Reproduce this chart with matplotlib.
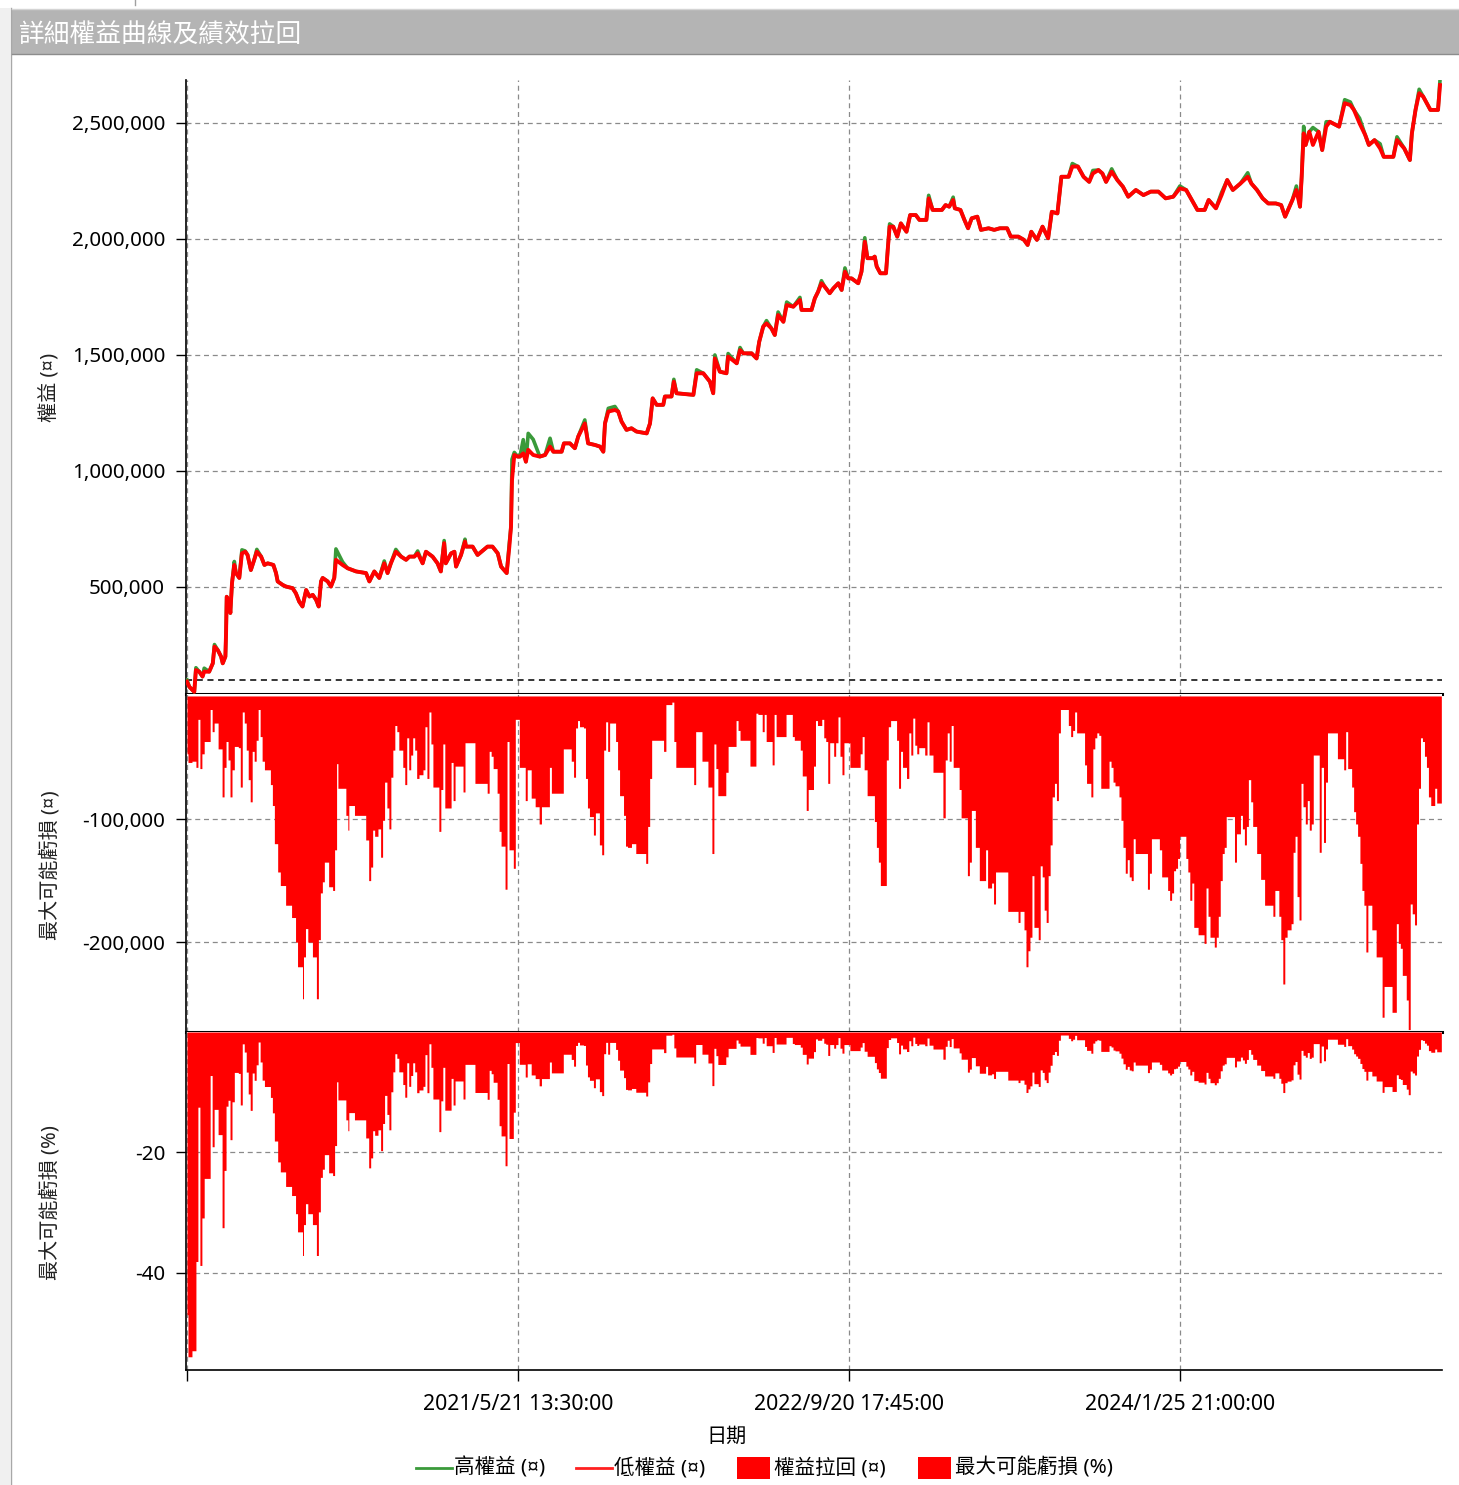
import numpy as np
import matplotlib
matplotlib.use("Agg")
import matplotlib.pyplot as plt
from matplotlib.patches import Rectangle
from matplotlib.lines import Line2D
from matplotlib.ticker import FuncFormatter

plt.rcParams['font.family'] = ['Noto Sans', 'Noto Sans CJK TC', 'DejaVu Sans']

# ---------------- data (x = bar index along the date axis) ----------------
title = "詳細權益曲線及績效拉回"
tick_pos = [0, 1000, 2000, 3000]
tick_labels = ["", "2021/5/21 13:30:00", "2022/9/20 17:45:00", "2024/1/25 21:00:00"]
base_equity = 100000

eq_x = [0, 7, 22, 27, 37, 47, 52, 67, 78, 83, 93, 103, 108, 116, 118, 120, 128, 131, 136, 143,
        148, 158, 166, 176, 183, 193, 203, 211, 224, 234, 244, 261, 269, 274, 289, 299, 319, 329, 339, 349,
        360, 370, 380, 390, 398, 405, 410, 425, 435, 445, 450, 470, 485, 511, 541, 551, 566, 581, 596, 606,
        616, 631, 647, 662, 672, 687, 697, 712, 722, 742, 757, 767, 777, 782, 798, 808, 813, 828, 840, 843,
        863, 878, 908, 923, 939, 949, 966, 974, 979, 982, 989, 999, 1006, 1016, 1024, 1031, 1046, 1066, 1082, 1097,
        1107, 1132, 1139, 1157, 1172, 1182, 1202, 1212, 1233, 1248, 1258, 1263, 1273, 1293, 1303, 1313, 1328, 1343, 1358, 1389,
        1399, 1407, 1419, 1439, 1444, 1464, 1471, 1479, 1530, 1540, 1560, 1580, 1590, 1595, 1610, 1630, 1635, 1661, 1671, 1681,
        1706, 1721, 1729, 1741, 1751, 1766, 1776, 1786, 1802, 1812, 1832, 1852, 1857, 1872, 1887, 1897, 1907, 1917, 1927, 1942,
        1953, 1968, 1978, 1988, 1998, 2008, 2028, 2038, 2048, 2056, 2072, 2078, 2084, 2095, 2112, 2118, 2123, 2134, 2146, 2157,
        2174, 2185, 2202, 2213, 2234, 2241, 2253, 2281, 2292, 2303, 2315, 2320, 2337, 2349, 2360, 2371, 2388, 2399, 2422, 2439,
        2456, 2478, 2489, 2512, 2529, 2540, 2551, 2568, 2585, 2602, 2613, 2630, 2642, 2664, 2675, 2692, 2709, 2726, 2737, 2754,
        2766, 2777, 2794, 2811, 2828, 2844, 2867, 2890, 2912, 2935, 2957, 2980, 3000, 3019, 3036, 3053, 3075, 3087, 3109, 3126,
        3143, 3160, 3183, 3205, 3216, 3233, 3250, 3267, 3290, 3306, 3318, 3340, 3352, 3363, 3368, 3374, 3380, 3391, 3402, 3419,
        3430, 3442, 3453, 3481, 3498, 3515, 3526, 3543, 3560, 3571, 3588, 3605, 3616, 3645, 3656, 3678, 3695, 3701, 3712, 3723,
        3735, 3757, 3774, 3780, 3786]

# low equity (thousands)
eq_low = [92, 70, 48, 142, 135, 114, 135, 135, 171, 243, 228, 200, 171, 200, 300, 458, 431, 388, 517, 595,
          560, 539, 645, 652, 638, 573, 617, 652, 631, 595, 602, 595, 560, 524, 509, 502, 495, 473, 437, 416,
          487, 459, 466, 445, 416, 524, 539, 524, 502, 539, 617, 595, 581, 567, 560, 524, 567, 539, 602, 560,
          602, 652, 631, 617, 631, 631, 645, 602, 652, 631, 602, 567, 689, 602, 645, 652, 588, 638, 696, 674,
          674, 638, 674, 674, 645, 588, 560, 674, 760, 961, 1069, 1062, 1062, 1076, 1040, 1091, 1069, 1062, 1069, 1105,
          1083, 1083, 1119, 1119, 1098, 1148, 1205, 1119, 1112, 1105, 1083, 1205, 1256, 1263, 1256, 1213, 1177, 1184, 1170, 1162,
          1205, 1313, 1285, 1285, 1321, 1321, 1385, 1335, 1328, 1421, 1421, 1385, 1335, 1485, 1428, 1421, 1493, 1464, 1521, 1507,
          1507, 1485, 1557, 1622, 1636, 1614, 1586, 1672, 1643, 1715, 1708, 1737, 1694, 1694, 1694, 1744, 1773, 1809, 1794, 1766,
          1787, 1809, 1780, 1859, 1830, 1830, 1809, 1859, 1988, 1917, 1917, 1924, 1881, 1852, 1852, 1967, 2053, 2053, 2010, 2067,
          2031, 2103, 2103, 2082, 2082, 2175, 2125, 2125, 2146, 2139, 2168, 2132, 2125, 2082, 2046, 2089, 2096, 2039, 2046, 2039,
          2046, 2046, 2010, 2010, 1996, 1974, 2031, 1996, 2053, 2003, 2117, 2110, 2268, 2268, 2312, 2312, 2268, 2246, 2282, 2297,
          2282, 2246, 2290, 2254, 2225, 2182, 2211, 2189, 2204, 2204, 2175, 2182, 2218, 2211, 2168, 2125, 2125, 2168, 2132, 2189,
          2254, 2211, 2239, 2268, 2239, 2211, 2175, 2153, 2153, 2146, 2096, 2168, 2211, 2139, 2268, 2455, 2405, 2462, 2405, 2462,
          2383, 2484, 2505, 2484, 2585, 2577, 2556, 2498, 2448, 2405, 2426, 2390, 2354, 2354, 2426, 2390, 2340, 2455, 2556, 2628,
          2614, 2556, 2556, 2556, 2663]

# high equity (thousands)
eq_high = [100, 70, 48, 152, 135, 114, 150, 135, 171, 252, 228, 200, 171, 200, 300, 458, 431, 388, 517, 610,
           560, 539, 660, 655, 638, 573, 617, 662, 631, 595, 602, 595, 560, 524, 509, 502, 495, 473, 437, 416,
           487, 459, 466, 445, 416, 524, 539, 524, 502, 539, 664, 608, 581, 567, 560, 524, 567, 539, 612, 560,
           602, 662, 631, 617, 631, 631, 655, 602, 652, 631, 602, 567, 700, 602, 645, 652, 588, 638, 706, 674,
           674, 638, 674, 674, 645, 588, 560, 690, 760, 1050, 1080, 1062, 1062, 1135, 1040, 1162, 1136, 1062, 1069, 1141,
           1083, 1083, 1119, 1119, 1098, 1148, 1220, 1119, 1112, 1105, 1083, 1205, 1270, 1278, 1256, 1213, 1177, 1184, 1170, 1162,
           1205, 1313, 1285, 1285, 1321, 1321, 1395, 1335, 1328, 1436, 1421, 1385, 1335, 1500, 1428, 1421, 1506, 1464, 1532, 1507,
           1507, 1485, 1557, 1622, 1648, 1614, 1586, 1685, 1643, 1728, 1708, 1748, 1694, 1694, 1694, 1744, 1773, 1820, 1794, 1766,
           1787, 1809, 1780, 1875, 1830, 1830, 1809, 1859, 2005, 1917, 1917, 1924, 1881, 1852, 1852, 1967, 2065, 2053, 2010, 2067,
           2031, 2103, 2103, 2082, 2082, 2188, 2125, 2125, 2146, 2139, 2180, 2132, 2125, 2082, 2046, 2089, 2096, 2039, 2046, 2039,
           2046, 2046, 2010, 2010, 1996, 1974, 2031, 1996, 2053, 2003, 2117, 2110, 2268, 2268, 2325, 2312, 2268, 2246, 2295, 2297,
           2282, 2246, 2302, 2254, 2225, 2182, 2211, 2189, 2204, 2204, 2175, 2182, 2228, 2211, 2168, 2125, 2125, 2168, 2132, 2200,
           2254, 2211, 2239, 2285, 2239, 2211, 2175, 2153, 2153, 2146, 2096, 2168, 2228, 2139, 2268, 2485, 2405, 2462, 2480, 2462,
           2383, 2505, 2505, 2484, 2600, 2590, 2556, 2520, 2448, 2405, 2426, 2410, 2354, 2354, 2440, 2390, 2340, 2455, 2556, 2645,
           2614, 2556, 2556, 2556, 2685]

# drawdown in currency (thousands)
dd_x = [0, 3, 15, 27, 33, 39, 45, 52, 70, 76, 82, 94, 106, 112, 118, 124, 130, 136, 143, 155,
        161, 167, 173, 179, 185, 191, 197, 203, 209, 215, 221, 227, 234, 252, 258, 264, 274, 282, 298, 316,
        328, 334, 349, 352, 358, 365, 379, 391, 397, 403, 409, 415, 428, 440, 446, 452, 456, 480, 486, 489,
        506, 540, 549, 555, 561, 567, 577, 585, 591, 597, 604, 610, 616, 622, 628, 634, 640, 652, 658, 664,
        670, 676, 682, 688, 694, 701, 713, 719, 725, 731, 737, 743, 761, 767, 773, 779, 798, 804, 810, 834,
        840, 870, 907, 913, 919, 925, 937, 943, 949, 961, 967, 973, 986, 992, 1004, 1022, 1028, 1040, 1052, 1064,
        1071, 1095, 1101, 1137, 1161, 1168, 1174, 1180, 1186, 1198, 1204, 1210, 1216, 1228, 1234, 1246, 1253, 1259, 1265, 1271,
        1277, 1295, 1301, 1307, 1319, 1325, 1331, 1343, 1356, 1386, 1392, 1398, 1404, 1440, 1447, 1465, 1471, 1477, 1531, 1537,
        1556, 1574, 1586, 1592, 1598, 1604, 1628, 1635, 1659, 1665, 1671, 1701, 1719, 1725, 1738, 1744, 1750, 1768, 1774, 1780,
        1810, 1829, 1835, 1853, 1859, 1871, 1877, 1893, 1899, 1905, 1918, 1924, 1930, 1936, 1942, 1954, 1960, 1967, 1973, 1979,
        1985, 2003, 2034, 2040, 2046, 2055, 2077, 2083, 2089, 2095, 2113, 2119, 2126, 2144, 2150, 2156, 2162, 2174, 2181, 2187,
        2193, 2199, 2205, 2211, 2229, 2236, 2242, 2254, 2284, 2291, 2297, 2303, 2309, 2315, 2333, 2339, 2358, 2364, 2370, 2382,
        2394, 2413, 2419, 2431, 2437, 2443, 2480, 2511, 2517, 2529, 2535, 2541, 2547, 2553, 2559, 2572, 2578, 2584, 2590, 2596,
        2602, 2608, 2614, 2621, 2627, 2633, 2639, 2663, 2670, 2676, 2682, 2688, 2712, 2718, 2731, 2737, 2743, 2749, 2755, 2761,
        2786, 2792, 2798, 2804, 2816, 2822, 2828, 2835, 2841, 2847, 2853, 2859, 2865, 2902, 2908, 2914, 2938, 2945, 2963, 2969,
        2975, 2981, 2987, 2993, 2999, 3018, 3024, 3030, 3036, 3042, 3055, 3073, 3079, 3085, 3091, 3104, 3110, 3116, 3122, 3128,
        3134, 3140, 3165, 3171, 3183, 3189, 3195, 3201, 3207, 3214, 3220, 3232, 3244, 3256, 3281, 3287, 3299, 3305, 3311, 3317,
        3324, 3336, 3342, 3348, 3354, 3360, 3366, 3372, 3379, 3385, 3391, 3397, 3403, 3421, 3427, 3434, 3440, 3446, 3476, 3495,
        3501, 3507, 3519, 3525, 3531, 3537, 3544, 3550, 3556, 3562, 3568, 3580, 3593, 3611, 3617, 3641, 3654, 3660, 3666, 3672,
        3684, 3690, 3696, 3702, 3709, 3715, 3721, 3727, 3733, 3739, 3745, 3751, 3758, 3770, 3776, 3790]

dd_val = [-47, -54, -53, -58, -19, -59, -47, -37, -11, -29, -22, -43, -82, -58, -37, -52, -82, -60, -41, -42,
          -74, -13, -22, -44, -68, -86, -45, -53, -36, -11, -33, -53, -60, -72, -89, -120, -143, -154, -170, -180,
          -200, -220, -246, -212, -189, -200, -212, -246, -198, -160, -151, -135, -155, -158, -125, -55, -75, -97, -109, -89,
          -97, -117, -150, -139, -109, -114, -108, -131, -101, -70, -91, -108, -66, -44, -24, -29, -44, -58, -72, -34,
          -60, -48, -34, -44, -67, -64, -60, -25, -67, -13, -39, -74, -110, -76, -39, -91, -54, -85, -57, -78,
          -38, -71, -79, -45, -49, -59, -79, -110, -122, -157, -37, -125, -140, -19, -58, -85, -60, -83, -90, -104,
          -90, -58, -79, -43, -53, -66, -26, -20, -25, -26, -67, -91, -98, -113, -95, -121, -129, -44, -21, -45,
          -22, -37, -60, -81, -97, -122, -123, -120, -128, -136, -106, -67, -36, -45, -7, -5, -37, -58, -72, -29,
          -53, -74, -128, -39, -59, -81, -62, -41, -20, -28, -36, -57, -14, -15, -29, -15, -37, -56, -15, -33,
          -15, -33, -36, -44, -65, -93, -76, -57, -20, -24, -19, -34, -37, -71, -38, -49, -38, -17, -49, -64,
          -38, -58, -47, -33, -60, -81, -102, -123, -135, -154, -52, -25, -20, -36, -75, -45, -58, -67, -30, -48,
          -18, -40, -47, -42, -48, -21, -48, -62, -99, -52, -30, -53, -24, -58, -76, -99, -146, -135, -93, -123,
          -150, -125, -156, -152, -169, -143, -175, -184, -175, -190, -220, -207, -196, -146, -188, -198, -138, -147, -174, -184,
          -146, -121, -82, -71, -85, -30, -11, -24, -33, -28, -13, -30, -56, -71, -82, -43, -34, -30, -32, -75,
          -53, -58, -70, -73, -82, -101, -123, -144, -133, -147, -150, -116, -128, -157, -144, -116, -125, -147, -158, -166,
          -160, -142, -140, -132, -114, -132, -143, -166, -152, -188, -194, -201, -156, -179, -196, -204, -196, -179, -150, -128,
          -123, -98, -135, -112, -97, -108, -121, -106, -68, -86, -106, -128, -149, -170, -179, -158, -179, -198, -234, -196,
          -190, -185, -127, -114, -163, -182, -71, -90, -104, -85, -109, -104, -48, -127, -58, -119, -70, -30, -51, -60,
          -29, -59, -74, -94, -104, -114, -136, -158, -170, -208, -170, -190, -212, -261, -236, -257, -185, -201, -205, -227,
          -247, -271, -169, -177, -186, -104, -75, -34, -37, -49, -58, -82, -89, -75, -87, -87]

# ---------------- derived series ----------------
ex = np.array(eq_x, dtype=float)
lo = np.array(eq_low, dtype=float) * 1000
hi = np.array(eq_high, dtype=float) * 1000
dx = np.array(dd_x, dtype=float)
dv = np.array(dd_val, dtype=float) * 1000
run_peak = np.maximum.accumulate(hi)
peak_at_dd = run_peak[np.clip(np.searchsorted(ex, dx, side='right') - 1, 0, len(ex) - 1)]
dd_pct = dv / peak_at_dd * 100

# ---------------- figure ----------------
W, H = 1459, 1485
fig = plt.figure(figsize=(W / 100, H / 100), dpi=100)
fig.patch.set_facecolor('white')

def fx(px):
    return px / W

def fy(py):
    return 1 - py / H

# window chrome
fig.add_artist(Rectangle((0, 0), fx(10), fy(8), transform=fig.transFigure, fc='#f0f0f0', ec='none'))
fig.add_artist(Line2D([fx(10.5), fx(10.5)], [0, fy(8)], transform=fig.transFigure, color='#a8a8a8', lw=1))
fig.add_artist(Line2D([fx(135), fx(135)], [fy(0), fy(5)], transform=fig.transFigure, color='#a0a0a0', lw=1))
fig.add_artist(Rectangle((fx(12), fy(54)), 1 - fx(12), fy(10) - fy(54), transform=fig.transFigure,
                         fc='#b4b4b4', ec='none'))
fig.add_artist(Line2D([fx(12), 1], [fy(9), fy(9)], transform=fig.transFigure, color='#d4d4d4', lw=1))
fig.add_artist(Line2D([fx(12), 1], [fy(54), fy(54)], transform=fig.transFigure, color='#8c8c8c', lw=1))
fig.text(fx(19), fy(33), title, color='white', fontsize=18.5, va='center_baseline', ha='left',
         family=['Noto Sans CJK TC', 'DejaVu Sans'])

L, R = 186, 1442
ax1 = fig.add_axes([fx(L), fy(694), fx(R) - fx(L), fy(80) - fy(694)])
ax2 = fig.add_axes([fx(L), fy(1032), fx(R) - fx(L), fy(694) - fy(1032)], sharex=ax1)
ax3 = fig.add_axes([fx(L), fy(1370), fx(R) - fx(L), fy(1032) - fy(1370)], sharex=ax1)

grid_kw = dict(color='#8a8a8a', lw=0.9, ls=(0, (4, 3)))
for ax in (ax1, ax2, ax3):
    ax.set_facecolor('white')
    ax.grid(True, **grid_kw)
    ax.set_axisbelow(True)
    for s in ('top', 'right'):
        ax.spines[s].set_visible(False)
    ax.spines['left'].set_color('black')
    ax.spines['left'].set_linewidth(1.2)
    ax.spines['bottom'].set_color('black')
    ax.tick_params(axis='y', direction='out', length=7, width=1, labelsize=14.8, pad=8, colors='black')
    ax.set_xticks(tick_pos)

ax1.spines['bottom'].set_linewidth(2.2)
ax2.spines['bottom'].set_linewidth(2.2)
ax3.spines['bottom'].set_linewidth(1.2)

# top: equity
ax1.plot(ex, hi, color='#3a9a3a', lw=2.6, zorder=3)
ax1.plot(ex, lo, color='#ff0000', lw=2.8, zorder=4)
ax1.axhline(base_equity, color='black', lw=1.1, ls=(0, (4, 3)), zorder=2)
ax1.set_ylim(38800, 2685000)
ax1.set_yticks([500000, 1000000, 1500000, 2000000, 2500000])
ax1.yaxis.set_major_formatter(FuncFormatter(lambda v, p: f'{v:,.0f}'))

# middle: drawdown currency
ax2.fill_between(dx, dv, 0, step='post', color='#ff0000', lw=0, zorder=3)
ax2.set_ylim(-273000, 1600)
ax2.set_yticks([-200000, -100000])
ax2.yaxis.set_major_formatter(FuncFormatter(lambda v, p: f'{v:,.0f}'))

# bottom: drawdown percent
ax3.fill_between(dx, dd_pct, 0, step='post', color='#ff0000', lw=0, zorder=3)
ax3.set_ylim(-56.2, 0)
ax3.set_yticks([-40, -20])
ax3.yaxis.set_major_formatter(FuncFormatter(lambda v, p: f'{v:.0f}'))

ax1.set_xlim(-3, 3792)
for ax in (ax1, ax2):
    ax.tick_params(axis='x', length=0, labelbottom=False)
ax3.set_xticklabels(tick_labels)
ax3.tick_params(axis='x', direction='out', length=8, width=1, labelsize=15.3, pad=9, colors='black')

# axis titles
lab_kw = dict(rotation=90, ha='center', va='center', fontsize=14.5, color='#222222')
fig.text(fx(50), fy(387), '權益 (¤)', **lab_kw)
fig.text(fx(50), fy(865), '最大可能虧損 (¤)', **lab_kw)
fig.text(fx(50), fy(1203), '最大可能虧損 (%)', **lab_kw)
fig.text(fx(727), fy(1437), '日期', ha='center', va='center', fontsize=14.5, color='black')

# legend
ly = fy(1468)
leg_fs = 14.8
fig.add_artist(Line2D([fx(416), fx(452)], [ly, ly], transform=fig.transFigure, color='#3a9a3a', lw=2))
fig.text(fx(454), ly, '高權益 (¤)', ha='left', va='center', fontsize=leg_fs)
fig.add_artist(Line2D([fx(576), fx(612)], [ly, ly], transform=fig.transFigure, color='#ff2020', lw=2))
fig.text(fx(614), ly, '低權益 (¤)', ha='left', va='center', fontsize=leg_fs)
fig.add_artist(Rectangle((fx(737), fy(1479)), fx(770) - fx(737), fy(1457) - fy(1479),
                         transform=fig.transFigure, fc='#ff0000', ec='none'))
fig.text(fx(774), ly, '權益拉回 (¤)', ha='left', va='center', fontsize=leg_fs)
fig.add_artist(Rectangle((fx(918), fy(1479)), fx(951) - fx(918), fy(1457) - fy(1479),
                         transform=fig.transFigure, fc='#ff0000', ec='none'))
fig.text(fx(955), ly, '最大可能虧損 (%)', ha='left', va='center', fontsize=leg_fs)

fig.savefig('out.png', dpi=100, facecolor='white')
